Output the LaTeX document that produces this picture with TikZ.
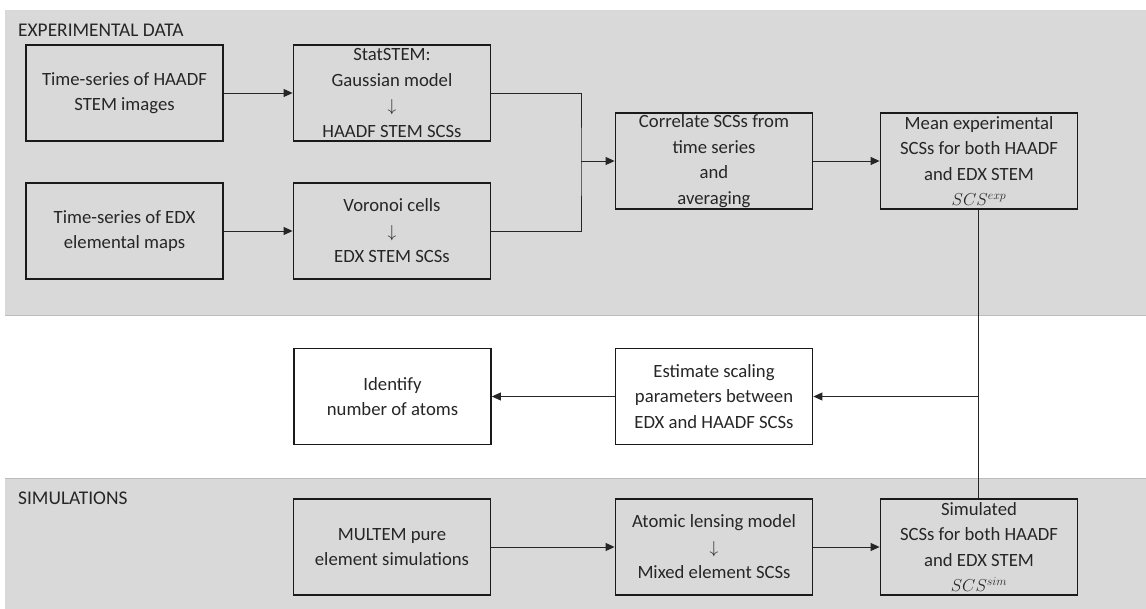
\documentclass[tikz,border=0pt]{standalone}
\usepackage{fontspec}
\setmainfont{Carlito}
\usetikzlibrary{arrows.meta}
\definecolor{bandgray}{HTML}{D9D9D9}
\definecolor{bandline}{HTML}{BDBDBD}
\definecolor{boxline}{HTML}{1A1A1A}
\tikzset{
  stepbox/.style={draw=boxline, line width=1.8pt, minimum width=197pt, minimum height=96pt,
    inner sep=0pt, align=center, font=\fontsize{18.7}{25.5}\selectfont, text=black!85},
  conn/.style={draw=black!85, line width=0.9pt},
  arr/.style={conn, -{Triangle[length=9pt,width=8pt]}},
  bandlabel/.style={anchor=west, font=\fontsize{19.4}{22}\selectfont, text=black!85, inner sep=0pt}
}
\begin{document}
\begin{tikzpicture}[x=1pt,y=-1pt]
\useasboundingbox (0,0) rectangle (1146,609);
% bands
\fill[bandgray] (5,10) rectangle (1146,316);
\draw[bandline, line width=1pt] (5,316) -- (1146,316);
\fill[bandgray] (5,478) rectangle (1146,609);
\draw[bandline, line width=1pt] (5,478) -- (1146,478);
\node[bandlabel] (lexp) at (18,30) {EXPERIMENTAL DATA};
\node[bandlabel] (lsim) at (18,498) {SIMULATIONS};
% boxes
\node[stepbox] (A) at (124.5,93) {Time-series of HAADF\\STEM images};
\node[stepbox] (B) at (392,93) {StatSTEM:\\Gaussian model\\$\downarrow$\\HAADF STEM SCSs};
\node[stepbox] (C) at (124.5,231) {Time-series of EDX\\elemental maps};
\node[stepbox] (D) at (392,231) {Voronoi cells\\$\downarrow$\\EDX STEM SCSs};
\node[stepbox] (E) at (714,161) {Correlate SCSs from\\time series\\and\\averaging};
\node[stepbox] (F) at (979,161) {Mean experimental\\SCSs for both HAADF\\and EDX STEM\\$SCS^{exp}$};
\node[stepbox, fill=white] (H) at (392.5,396.5) {Identify\\number of atoms};
\node[stepbox, fill=white] (I) at (714,396.5) {Estimate scaling\\parameters between\\EDX and HAADF SCSs};
\node[stepbox] (J) at (392,547) {MULTEM pure\\element simulations};
\node[stepbox] (K) at (714,547) {Atomic lensing model\\$\downarrow$\\Mixed element SCSs};
\node[stepbox] (L) at (979,547) {Simulated\\SCSs for both HAADF\\and EDX STEM\\$SCS^{sim}$};
% connectors
\coordinate (m) at (581,161);
\coordinate (v) at (978,396.5);
\draw[arr] (A) -- (B);
\draw[arr] (C) -- (D);
\draw[conn] (B.east) -| (m) |- (D.east);
\draw[arr] (m) -- (E.west);
\draw[arr] (E) -- (F);
\draw[conn] (F.south -| v) -- (L.north -| v);
\draw[arr] (v) -- (I.east);
\draw[arr] (I) -- (H);
\draw[arr] (J) -- (K);
\draw[arr] (K) -- (L);
\end{tikzpicture}
\end{document}
